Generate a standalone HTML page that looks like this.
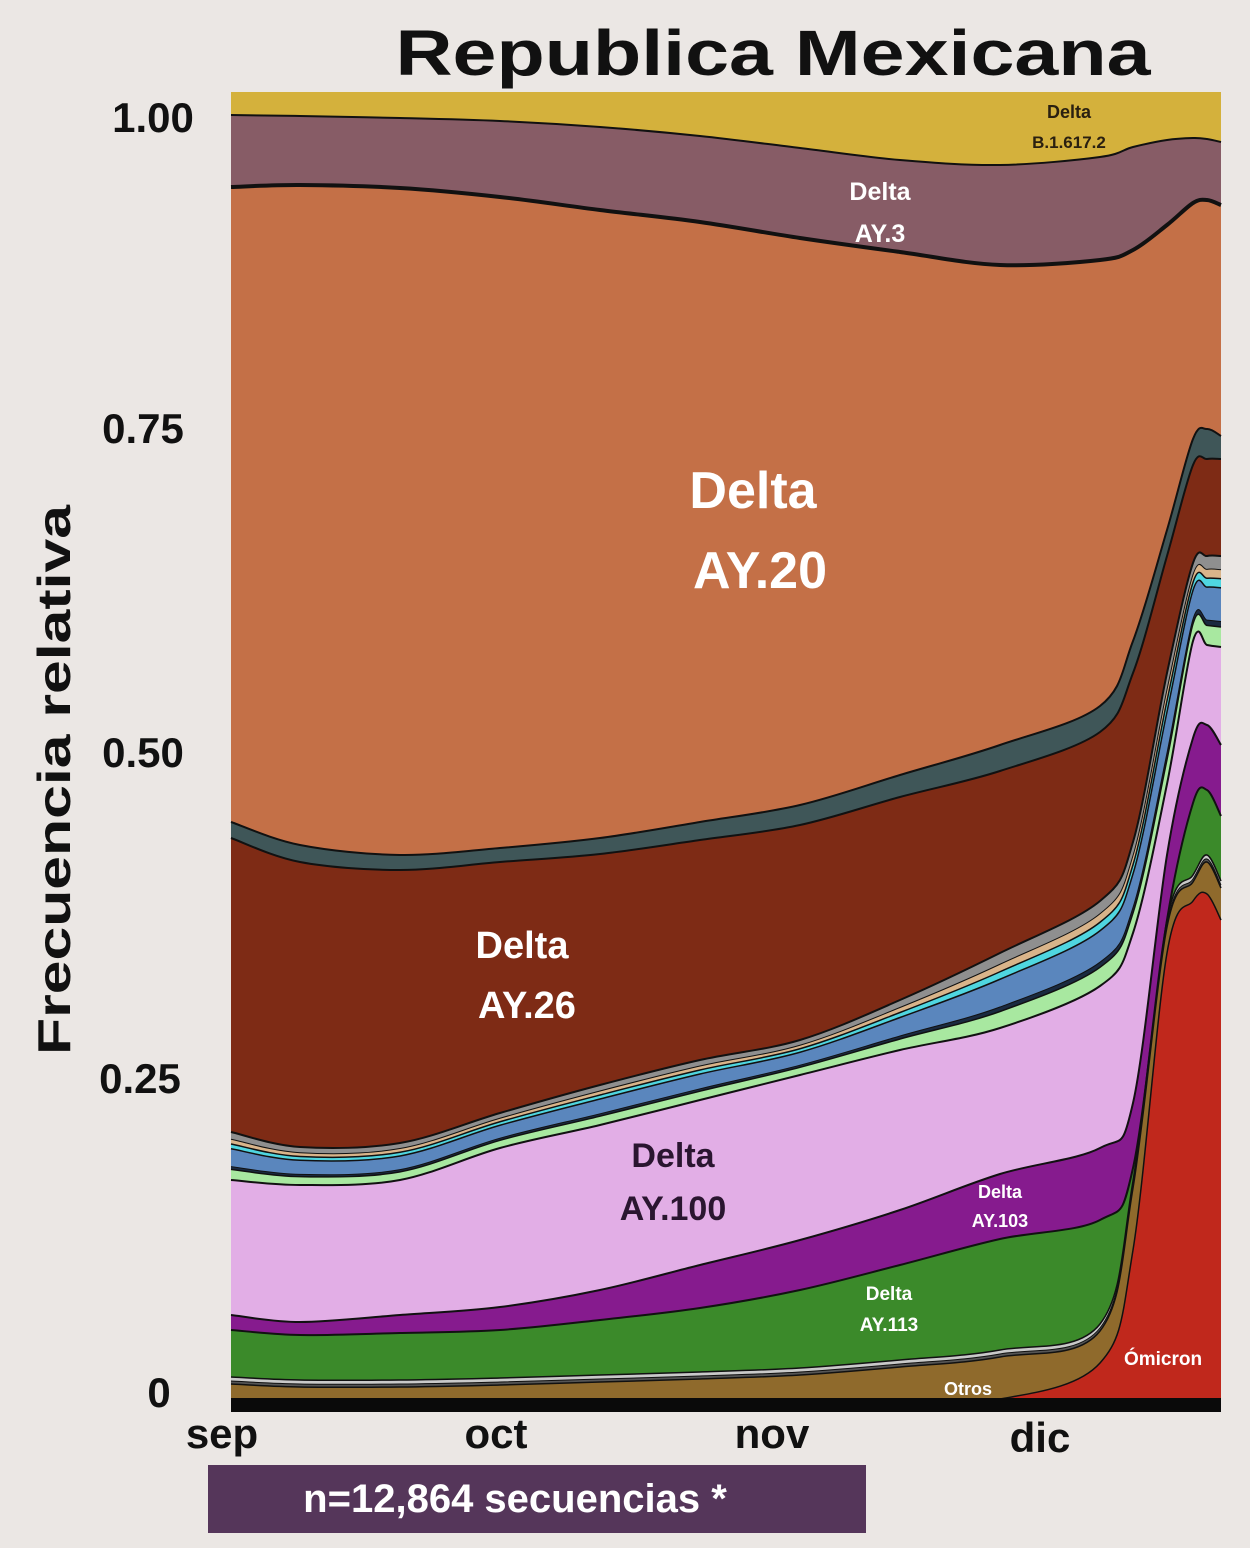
<!DOCTYPE html>
<html><head><meta charset="utf-8"><style>
html,body{margin:0;padding:0;background:#ebe7e4;}
svg{display:block;}
text{font-family:"Liberation Sans",sans-serif;font-weight:bold;}
</style></head><body>
<svg id="s" width="1250" height="1548" viewBox="0 0 1250 1548" xmlns="http://www.w3.org/2000/svg">
<rect width="1250" height="1548" fill="#ebe7e4"/>
<g id="layers"></g>
<rect x="231" y="1398" width="990" height="14" fill="#0a0a0a"/>
<g id="labels">
<text x="773" y="75" font-size="64" text-anchor="middle" textLength="755" lengthAdjust="spacingAndGlyphs" fill="#111">Republica Mexicana</text>
<text x="153" y="132" font-size="42" text-anchor="middle" fill="#111">1.00</text>
<text x="143" y="443" font-size="42" text-anchor="middle" fill="#111">0.75</text>
<text x="143" y="767" font-size="42" text-anchor="middle" fill="#111">0.50</text>
<text x="140" y="1093" font-size="42" text-anchor="middle" fill="#111">0.25</text>
<text x="159" y="1407" font-size="42" text-anchor="middle" fill="#111">0</text>
<text x="222" y="1448" font-size="42" text-anchor="middle" fill="#111">sep</text>
<text x="496" y="1448" font-size="42" text-anchor="middle" fill="#111">oct</text>
<text x="772" y="1448" font-size="42" text-anchor="middle" fill="#111">nov</text>
<text x="1040" y="1452" font-size="42" text-anchor="middle" fill="#111">dic</text>
<text transform="translate(70,780) rotate(-90)" font-size="46" text-anchor="middle" textLength="550" lengthAdjust="spacingAndGlyphs" fill="#111">Frecuencia relativa</text>
<rect x="208" y="1465" width="658" height="68" fill="#55365a"/>
<text x="515" y="1512" font-size="40" text-anchor="middle" fill="#fff">n=12,864 secuencias *</text>
<text x="753" y="508" font-size="52" text-anchor="middle" fill="#fff">Delta</text>
<text x="760" y="588" font-size="52" text-anchor="middle" fill="#fff">AY.20</text>
<text x="522" y="958" font-size="38" text-anchor="middle" fill="#fff">Delta</text>
<text x="527" y="1018" font-size="38" text-anchor="middle" fill="#fff">AY.26</text>
<text x="673" y="1167" font-size="34" text-anchor="middle" fill="#2a1530">Delta</text>
<text x="673" y="1220" font-size="34" text-anchor="middle" fill="#2a1530">AY.100</text>
<text x="880" y="200" font-size="25" text-anchor="middle" fill="#fff">Delta</text>
<text x="880" y="242" font-size="25" text-anchor="middle" fill="#fff">AY.3</text>
<text x="1069" y="118" font-size="18" text-anchor="middle" fill="#2a2010">Delta</text>
<text x="1069" y="148" font-size="17" text-anchor="middle" fill="#2a2010">B.1.617.2</text>
<text x="1000" y="1198" font-size="18" text-anchor="middle" fill="#fff">Delta</text>
<text x="1000" y="1227" font-size="18" text-anchor="middle" fill="#fff">AY.103</text>
<text x="889" y="1300" font-size="19" text-anchor="middle" fill="#fff">Delta</text>
<text x="889" y="1331" font-size="19" text-anchor="middle" fill="#fff">AY.113</text>
<text x="1163" y="1365" font-size="19" text-anchor="middle" fill="#fff">Ómicron</text>
<text x="968" y="1395" font-size="18" text-anchor="middle" fill="#fff">Otros</text>
</g>
</svg>
<script>
var X=[231,300,400,500,600,700,800,900,1000,1100,1133,1167,1193,1207,1221];
var B=1405;
function path(Y){
  var p=X.map(function(x,i){return [x,Y[i]];});
  var d="M"+p[0][0]+","+p[0][1];
  for(var i=0;i<p.length-1;i++){
    var p0=p[i>0?i-1:i],p1=p[i],p2=p[i+1],p3=p[i+2<p.length?i+2:i+1];
    var c1x=p1[0]+(p2[0]-p0[0])/6,c1y=p1[1]+(p2[1]-p0[1])/6;
    var c2x=p2[0]-(p3[0]-p1[0])/6,c2y=p2[1]-(p3[1]-p1[1])/6;
    d+=" C"+c1x.toFixed(1)+","+c1y.toFixed(1)+" "+c2x.toFixed(1)+","+c2y.toFixed(1)+" "+p2[0]+","+p2[1];
  }
  return d;
}
function lerp(A,C,t){return A.map(function(a,i){return a+(C[i]-a)*t;});}
function add(A,k){return A.map(function(a){return a+k;});}
var yb=[115,116,118,121,127,136,148,160,165,157,147,140,138,139,142];
var mb=[187,185,188,197,210,222,238,252,265,260,250,225,203,200,205];
var st=[822,845,855,848,838,822,805,775,745,706,641,530,439,429,436];
var sb=[838,862,870,862,854,840,825,797,771,732,673,556,465,459,459];
var a26=[1132,1147,1143,1113,1085,1060,1040,1000,953,901,842,673,563,556,556];
var pk=[1180,1185,1180,1148,1125,1100,1075,1050,1028,986,933,784,641,645,647];
var pu=[1315,1322,1315,1307,1290,1265,1240,1210,1174,1148,1103,855,738,725,745];
var gr=[1330,1335,1333,1330,1320,1308,1290,1265,1239,1220,1168,920,803,790,816];
var gb=[1377,1380,1380,1378,1375,1372,1368,1360,1350,1324,1181,920,875,855,881];
var rd=[1400,1400,1400,1400,1400,1400,1400,1400,1399,1363,1250,953,901,894,920];
var layers=[
 [yb,"#875c66",2],[mb,"#c47047",4],[st,"#3f5658",2],[sb,"#7e2b15",2],
 [a26,"#8f8f8f",2],
 [lerp(a26,pk,0.15),"#d9b48a",1],[lerp(a26,pk,0.25),"#4fd6e0",1.5],
 [lerp(a26,pk,0.35),"#5a86bd",1.5],[lerp(a26,pk,0.72),"#1a2a40",1],[lerp(a26,pk,0.78),"#a8e8a0",1.5],
 [pk,"#e2aee6",2],[pu,"#861b8e",2],[gr,"#3b8a2a",2],
 [add(gb,0),"#c9c9c9",1.5],[add(gb,4),"#555",1],[add(gb,7),"#8f6a2c",1.5],[rd,"#c0281c",1.5]
];
var g=document.getElementById("layers");
var ns="http://www.w3.org/2000/svg";
var r=document.createElementNS(ns,"rect");
r.setAttribute("x",231);r.setAttribute("y",92);r.setAttribute("width",990);r.setAttribute("height",B-92);r.setAttribute("fill","#d4b13c");
g.appendChild(r);
layers.forEach(function(L){
  var Y=L[0];
  var e=document.createElementNS(ns,"path");
  e.setAttribute("d",path(Y)+" L1221,"+B+" L231,"+B+" Z");
  e.setAttribute("fill",L[1]);
  g.appendChild(e);
  var l=document.createElementNS(ns,"path");
  l.setAttribute("d",path(Y));l.setAttribute("fill","none");
  l.setAttribute("stroke","#111");l.setAttribute("stroke-width",L[2]);
  g.appendChild(l);
});
</script>
</body></html>
